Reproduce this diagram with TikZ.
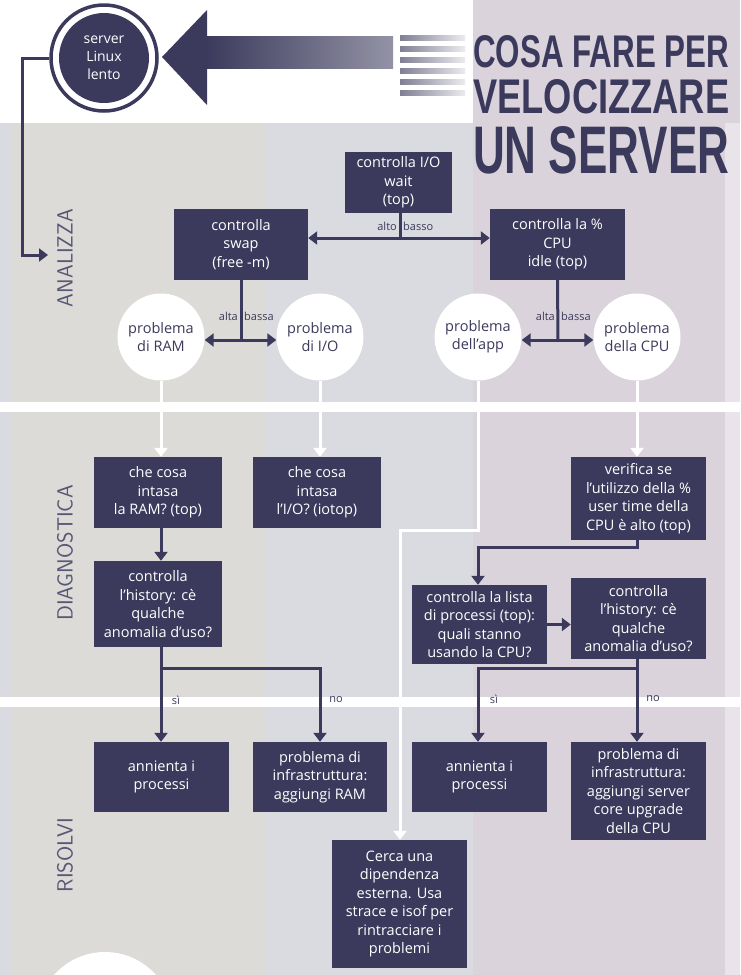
\documentclass[tikz,border=0pt]{standalone}
\usepackage{fontspec}
\setmainfont{Open Sans}
\newfontfamily\bigfont{Liberation Sans}
\usetikzlibrary{arrows.meta,positioning}
\definecolor{ink}{HTML}{3B3A5C}
\definecolor{colA}{HTML}{DCDBD7}
\definecolor{colB}{HTML}{DADAE1}
\definecolor{colC}{HTML}{DAD3DB}
\tikzset{
  box/.style={fill=ink,text=white,align=center,font=\fontsize{14.5}{18.5}\selectfont,inner sep=2pt},
  bubble/.style={circle,fill=white,text=ink,align=center,minimum size=87pt,inner sep=0pt,font=\fontsize{14.5}{18}\selectfont},
  link/.style={draw=ink,line width=3pt,-{Triangle[length=9pt,width=13pt]}},
  twin/.style={draw=ink,line width=3pt,{Triangle[length=9pt,width=13pt]}-{Triangle[length=9pt,width=13pt]}},
  wlink/.style={draw=white,line width=3pt,-{Triangle[length=9pt,width=13pt]}},
  tag/.style={text=ink,font=\fontsize{11}{12}\selectfont,inner sep=1pt},
  phase/.style={rotate=90,text=ink!85,font=\sffamily\fontsize{22}{22}\selectfont},
  headline/.style={text=ink,anchor=north west,inner sep=0pt,font=\bigfont\bfseries}
}
\begin{document}
\begin{tikzpicture}[x=1pt,y=-1pt]
  \useasboundingbox (0,0) rectangle (740,975);
  % background
  \fill[white] (0,0) rectangle (740,975);
  \fill[colC] (473,0) rectangle (740,975);
  \fill[colB] (0,123) rectangle (473,975);
  \fill[colA] (12,123) rectangle (265,975);
  \fill[colC!60!white] (725,123) rectangle (740,975);
  \fill[white] (0,402) rectangle (740,412);
  \fill[white] (0,697) rectangle (740,707);
  % title
  \node[headline] (t1) at (473,35) {\resizebox{256pt}{32pt}{COSA FARE PER}};
  \node[headline] (t2) at (473,79) {\resizebox{256pt}{34pt}{VELOCIZZARE}};
  \node[headline] (t3) at (473,126) {\resizebox{256pt}{47pt}{UN SERVER}};
  % big arrow
  \shade[left color=ink,right color=ink!55] (205,36) rectangle (393,68);
  \fill[ink] (162,57) -- (207,10) -- (207,105) -- cycle;
  \foreach \k in {0,...,5}
    \shade[left color=ink!65,right color=ink!10] (400,35+\k*11) rectangle (465,40+\k*11);
  % start
  \node[circle,draw=ink,line width=3.5pt,fill=white,minimum size=106pt] (ring) at (104,58) {};
  \node[circle,fill=ink,text=white,minimum size=90pt,align=center,inner sep=0pt,
        font=\fontsize{14}{18}\selectfont] (slow) at (104,58) {server\\Linux\\lento};
  \coordinate (analyse) at (48,255);
  \draw[link] (ring.west) -| (22,255) -- (analyse);
  % phases
  \node[phase] (p1) at (65,258) {ANALIZZA};
  \node[phase] (p2) at (65,553) {DIAGNOSTICA};
  \node[phase] (p3) at (65,855) {RISOLVI};
  % analysis
  \node[box,minimum width=107pt,minimum height=61pt] (iowait) at (398.5,182.5) {controlla I/O\\wait\\(top)};
  \node[box,minimum width=134pt,minimum height=71pt] (swap) at (241,244.5) {controlla\\swap\\(free -m)};
  \node[box,minimum width=135pt,minimum height=71pt] (idle) at (557.5,244.5) {controlla la \%\\CPU\\idle (top)};
  \coordinate (j1) at (400,238);
  \draw[twin] (swap.east |- j1) -- (idle.west |- j1);
  \draw[draw=ink,line width=3pt] (iowait.south -| j1) -- (j1);
  \node[tag,anchor=east] (hi1) at (398,226) {alto};
  \node[tag,anchor=west] (lo1) at (402,226) {basso};
  \node[bubble] (ram) at (161,337) {problema\\di RAM};
  \node[bubble] (io) at (320,337) {problema\\di I/O};
  \node[bubble] (app) at (478,337) {problema\\dell’app};
  \node[bubble] (cpu) at (637,337) {problema\\della CPU};
  \coordinate (j2) at (241,340);
  \coordinate (j3) at (558,340);
  \draw[twin] (ram.east |- j2) -- (io.west |- j2);
  \draw[twin] (app.east |- j3) -- (cpu.west |- j3);
  \draw[draw=ink,line width=3pt] (swap.south) -- (j2);
  \draw[draw=ink,line width=3pt] (idle.south) -- (j3);
  \node[tag,anchor=east] (hi2) at (239,316) {alta};
  \node[tag,anchor=west] (lo2) at (243,316) {bassa};
  \node[tag,anchor=east] (hi3) at (556,316) {alta};
  \node[tag,anchor=west] (lo3) at (560,316) {bassa};
  % diagnosis
  \node[box,minimum width=128pt,minimum height=71pt] (ramwhat) at (158,492.5) {che cosa\\intasa\\la RAM? (top)};
  \node[box,minimum width=128pt,minimum height=71pt] (iowhat) at (317,492.5) {che cosa\\intasa\\l’I/O? (iotop)};
  \node[box,minimum width=135pt,minimum height=83pt] (verify) at (638.5,498.5) {verifica se\\l’utilizzo della \%\\user time della\\CPU è alto (top)};
  \node[box,minimum width=128pt,minimum height=86pt] (hist1) at (158,604) {controlla\\l’history: cè\\qualche\\anomalia d’uso?};
  \node[box,minimum width=135pt,minimum height=79pt] (plist) at (479.5,624.5) {controlla la lista\\di processi (top):\\quali stanno\\usando la CPU?};
  \node[box,minimum width=135pt,minimum height=81pt] (hist2) at (638.5,618.5) {controlla\\l’history: cè\\qualche\\anomalia d’uso?};
  \draw[wlink] (ram.south) -- (ramwhat.north -| ram);
  \draw[wlink] (io.south) -- (iowhat.north -| io);
  \draw[wlink] (cpu.south) -- (verify.north -| cpu);
  \draw[link] (ramwhat.south -| ram) -- (hist1.north -| ram);
  \draw[link] (verify.south -| cpu) -- ++(0,7) -| (plist.north -| app);
  \draw[link] (plist.east) -- (hist2.west |- plist);
  % resolution
  \node[box,minimum width=135pt,minimum height=70pt] (kill1) at (161.5,777) {annienta i\\processi};
  \node[box,minimum width=134pt,minimum height=70pt] (addram) at (320,777) {problema di\\infrastruttura:\\aggiungi RAM};
  \node[box,minimum width=135pt,minimum height=70pt] (kill2) at (479.5,777) {annienta i\\processi};
  \node[box,minimum width=135pt,minimum height=98pt] (addcpu) at (638.5,791) {problema di\\infrastruttura:\\aggiungi server\\core upgrade\\della CPU};
  \node[box,minimum width=135pt,minimum height=128pt] (extern) at (399.5,904) {Cerca una\\dipendenza\\esterna. Usa\\strace e isof per\\rintracciare i\\problemi};
  \draw[link] (hist1.south -| ram) -- (kill1.north -| ram);
  \draw[link] (hist1.south -| ram) ++(0,21) -| (addram.north -| io);
  \draw[link] (hist2.south -| cpu) -- (addcpu.north -| cpu);
  \draw[link] (hist2.south -| cpu) ++(0,9) -| (kill2.north -| app);
  \draw[wlink] (app.south) -- (478,530) -| (extern.north -| 400,0);
  \node[tag] (yes1) at (176,700) {sì};
  \node[tag] (no1) at (336,700) {no};
  \node[tag] (yes2) at (494,699) {sì};
  \node[tag] (no2) at (653,699) {no};
  % leftover bubble
  \fill[white] (105,1020) circle (68);
\end{tikzpicture}
\end{document}
